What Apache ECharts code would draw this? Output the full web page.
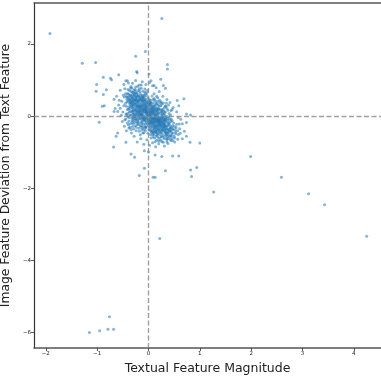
<!DOCTYPE html>
<html>
<head>
<meta charset="utf-8">
<script src="https://cdn.jsdelivr.net/npm/echarts@6/dist/echarts.min.js"></script>
<style>html,body{margin:0;padding:0;background:#fff}#c{width:381px;height:376px}</style>
</head>
<body>
<div id="c"></div>
<script>
var xTicks = [-2, -1, 0, 1, 2, 3, 4];
var yTicks = [-6, -4, -2, 0, 2];
var xTitle = 'Textual Feature Magnitude';
var yTitle = 'Image Feature Deviation from Text Feature';

var corePoints = [
[-0.29,0.27],[-0.23,0.09],[-0.17,0.38],[-0.11,0.16],[-0.05,-0.02],[0.01,0.24],[0.06,-0.15],[0.12,0.01],[0.18,-0.26],[0.24,-0.07],
[-0.27,0.44],[-0.21,0.22],[-0.14,0.03],[-0.08,0.33],[-0.02,0.11],[0.03,-0.08],[0.09,0.17],[0.15,-0.12],[0.21,-0.35],[0.27,-0.16],
[-0.25,0.15],[-0.18,0.51],[-0.13,0.27],[-0.07,-0.11],[0.00,0.06],[0.04,0.29],[0.10,-0.21],[0.16,0.08],[0.20,-0.14],[0.26,-0.41],
[-0.30,0.05],[-0.24,0.34],[-0.16,0.12],[-0.10,0.45],[-0.04,0.19],[0.02,-0.19],[0.07,0.09],[0.14,-0.33],[0.19,0.12],[0.29,-0.05],
[-0.28,0.58],[-0.20,0.01],[-0.15,0.25],[-0.09,-0.07],[-0.01,-0.13],[0.05,0.13],[0.11,-0.06],[0.13,-0.45],[0.23,-0.23],[0.30,-0.29],
[-0.26,0.21],[-0.22,0.47],[-0.12,0.39],[-0.06,0.08],[0.00,-0.25],[0.06,0.02],[0.08,-0.36],[0.17,-0.04],[0.22,-0.44],[0.25,0.02],
[-0.31,0.39],[-0.19,0.14],[-0.11,-0.03],[-0.05,0.29],[0.01,-0.04],[0.07,0.21],[0.12,-0.14],[0.16,-0.28],[0.20,-0.01],[0.28,-0.37],
[-0.24,0.02],[-0.18,0.29],[-0.14,-0.09],[-0.08,0.18],[-0.03,0.36],[0.03,0.04],[0.09,-0.28],[0.14,-0.09],[0.21,-0.19],[0.26,-0.24],
[-0.27,0.33],[-0.21,0.06],[-0.16,0.19],[-0.10,0.28],[-0.04,-0.17],[0.02,0.09],[0.08,-0.12],[0.15,0.14],[0.18,-0.39],[0.23,-0.12],
[-0.29,0.17],[-0.25,0.49],[-0.13,0.08],[-0.07,0.41],[-0.02,-0.08],[0.04,-0.32],[0.10,0.05],[0.12,-0.18],[0.19,-0.29],[0.31,-0.12],
[-0.23,0.26],[-0.17,-0.02],[-0.12,0.15],[-0.06,0.24],[0.00,0.17],[0.05,-0.05],[0.11,-0.41],[0.17,-0.14],[0.24,-0.18],[0.27,-0.02],
[-0.32,0.24],[-0.20,0.41],[-0.15,0.06],[-0.09,0.12],[-0.03,0.04],[0.03,0.19],[0.07,-0.22],[0.13,-0.01],[0.20,-0.09],[0.25,-0.33],
[-0.26,0.37],[-0.19,0.24],[-0.11,0.31],[-0.05,0.13],[0.02,-0.14],[0.06,-0.18],[0.09,0.08],[0.16,-0.22],[0.22,-0.27],[0.29,-0.19],
[-0.22,0.11],[-0.16,0.32],[-0.10,0.02],[-0.04,0.08],[0.01,0.31],[0.04,-0.01],[0.10,-0.09],[0.14,-0.15],[0.18,-0.06],[0.24,-0.46],
[-0.30,0.48],[-0.24,0.19],[-0.14,0.47],[-0.08,-0.01],[-0.02,0.27],[0.05,0.06],[0.11,0.11],[0.15,-0.38],[0.21,-0.12],[0.27,-0.28],
[-0.25,0.28],[-0.18,0.08],[-0.13,0.35],[-0.07,0.21],[-0.01,0.02],[0.03,-0.21],[0.08,-0.03],[0.13,0.06],[0.19,-0.21],[0.26,-0.09],
[-0.28,0.08],[-0.21,0.31],[-0.15,0.14],[-0.09,0.36],[-0.03,-0.06],[0.02,0.15],[0.07,-0.29],[0.12,-0.24],[0.23,-0.31],[0.28,-0.11],
[-0.23,0.43],[-0.17,0.18],[-0.11,0.10],[-0.06,-0.14],[0.00,0.10],[0.06,-0.11],[0.10,-0.16],[0.17,-0.33],[0.20,-0.17],[0.30,-0.21],
[-0.27,0.14],[-0.20,0.27],[-0.12,-0.05],[-0.08,0.25],[-0.04,0.11],[0.04,0.11],[0.09,-0.19],[0.14,-0.26],[0.22,-0.08],[0.25,-0.15],
[-0.21,0.36],[-0.16,0.04],[-0.10,0.19],[-0.05,0.35],[0.01,-0.18],[0.05,0.23],[0.12,-0.32],[0.16,0.02],[0.18,-0.13],[0.32,-0.26],
[-0.28,0.02],[-0.24,-0.08],[-0.21,0.16],[-0.17,0.45],[-0.13,-0.02],[-0.09,0.41],[-0.05,0.17],[-0.01,0.38],[0.02,-0.29],[0.06,0.18],
[0.09,-0.06],[0.13,0.19],[0.16,-0.18],[0.20,0.07],[0.24,-0.26],[0.27,0.11],[0.30,-0.14],[-0.26,0.41],[-0.22,0.29],[-0.18,0.03],
[-0.14,0.22],[-0.10,-0.12],[-0.06,0.31],[-0.02,0.21],[0.02,0.02],[0.05,-0.24],[0.09,0.24],[0.12,-0.09],[0.16,0.21],[0.19,-0.11],
[0.23,-0.04],[0.27,-0.21],[-0.29,0.35],[-0.25,0.05],[-0.21,0.39],[-0.17,0.26],[-0.12,0.04],[-0.08,-0.09],[-0.04,0.26],[0.00,-0.11],
[0.03,0.33],[0.07,-0.08],[0.11,0.16],[0.14,0.03],[0.18,0.18],[0.22,-0.16],[0.26,0.17],[0.29,-0.31],[-0.19,0.11],[-0.03,0.14],
[0.01,0.07],[0.04,-0.15],[0.08,0.12],[0.12,-0.28],[-0.15,0.29],[-0.11,0.22],[-0.07,0.14],[-0.01,0.03],[0.15,-0.06],[0.21,-0.23],
[-0.35,0.27],[-0.33,0.52],[-0.31,0.14],[-0.37,0.37],[-0.39,0.19],[-0.36,0.03],[-0.34,0.41],[-0.32,0.33],[-0.38,0.46],[-0.30,0.22],
[0.33,-0.12],[0.35,-0.29],[0.37,-0.06],[0.39,-0.24],[0.41,-0.41],[0.34,-0.47],[0.36,-0.35],[0.38,-0.19],[0.42,-0.35],[0.32,-0.09],
[-0.02,-0.21],[0.03,-0.37],[0.07,-0.41],[0.11,-0.35],[-0.06,-0.31],[0.14,-0.41],[0.17,-0.44],[0.09,-0.47],[0.19,-0.36],[0.23,-0.39],
[-0.04,0.41],[-0.08,0.47],[-0.12,0.43],[-0.16,0.51],[0.00,0.33],[0.04,0.38],[-0.20,0.55],[-0.24,0.46],[-0.11,0.53],[0.02,0.45]
];

var fillPoints = [
[0.06,0.31],[0.09,0.46],[0.12,0.22],[0.14,0.39],[0.17,0.15],[0.19,0.41],[0.21,0.27],[0.23,0.09],[0.26,0.33],[0.28,0.19],
[0.31,0.24],[0.33,0.11],[0.35,0.36],[0.38,0.16],[0.08,0.26],[0.11,0.49],[0.15,0.33],[0.18,0.06],[0.22,0.44],[0.25,0.13],
[0.29,0.36],[0.32,0.02],[0.36,0.21],[0.40,0.07],[0.05,0.36],[0.13,0.12],[0.16,0.55],[0.20,0.19],[0.24,0.29],[0.27,0.06],
[0.07,0.14],[0.10,0.28],[0.13,0.44],[0.19,0.31],[0.23,0.37],[0.30,0.14],[0.34,0.27],[0.39,0.31],[0.43,0.03],[0.46,0.18],
[-0.06,-0.22],[-0.09,-0.37],[-0.12,-0.14],[-0.14,-0.31],[-0.17,-0.08],[-0.19,-0.34],[-0.21,-0.19],[-0.23,-0.03],[-0.26,-0.27],[-0.28,-0.12],
[-0.31,-0.29],[-0.33,-0.05],[-0.35,-0.21],[-0.38,-0.14],[-0.08,-0.28],[-0.11,-0.47],[-0.15,-0.18],[-0.18,-0.42],[-0.22,-0.24],[-0.25,-0.09],
[-0.29,-0.36],[-0.32,-0.17],[-0.36,-0.31],[-0.40,-0.01],[-0.05,-0.33],[-0.13,-0.26],[-0.16,-0.52],[-0.20,-0.15],[-0.24,-0.41],[-0.27,-0.02],
[-0.07,-0.06],[-0.10,-0.21],[-0.13,-0.39],[-0.19,-0.23],[-0.23,-0.16],[-0.30,-0.04],[-0.34,-0.37],[-0.39,-0.24],[-0.42,0.04],[-0.46,-0.11],
[-0.05,0.47],[-0.09,0.58],[-0.13,0.51],[-0.16,0.63],[-0.19,0.44],[-0.22,0.55],[-0.25,0.68],[-0.28,0.46],[-0.31,0.59],[-0.34,0.68],
[-0.37,0.57],[-0.40,0.42],[-0.43,0.55],[-0.07,0.75],[-0.11,0.69],[-0.14,0.86],[-0.18,0.76],[-0.21,0.83],[-0.27,0.62],[-0.32,0.77],
[-0.04,0.57],[-0.10,0.51],[-0.20,0.71],[-0.24,0.52],[-0.36,0.44],[-0.03,0.64],[-0.15,0.44],[-0.26,0.74],[-0.30,0.66],[-0.41,0.52],
[0.05,-0.42],[0.08,-0.51],[0.12,-0.61],[0.15,-0.46],[0.18,-0.58],[0.21,-0.42],[0.24,-0.67],[0.27,-0.39],[0.30,-0.63],[0.33,-0.45],
[0.36,-0.72],[0.39,-0.46],[0.42,-0.64],[0.45,-0.53],[0.48,-0.35],[0.51,-0.61],[0.54,-0.32],[0.13,-0.71],[0.17,-0.52],[0.20,-0.69],
[0.26,-0.57],[0.29,-0.73],[0.32,-0.36],[0.35,-0.53],[0.38,-0.62],[0.44,-0.41],[0.47,-0.68],[0.53,-0.49],[0.57,-0.41],[0.60,-0.22]
];

var midPoints = [
[-0.52,0.41],[-0.45,0.62],[-0.41,0.18],[-0.37,0.71],[-0.34,0.02],[-0.33,0.45],[0.33,-0.05],[0.36,-0.48],[0.41,-0.22],[0.47,-0.38],
[-0.48,0.29],[-0.44,0.06],[-0.39,0.52],[-0.36,0.33],[-0.32,-0.12],[0.34,-0.31],[0.38,-0.11],[0.43,-0.55],[0.49,-0.19],[0.53,-0.44],
[-0.55,0.22],[-0.47,0.53],[-0.42,0.39],[-0.38,-0.04],[-0.35,0.59],[0.35,-0.62],[0.39,-0.36],[0.44,-0.08],[0.51,-0.29],[0.58,-0.51],
[-0.46,0.76],[-0.43,0.27],[-0.40,0.08],[-0.36,0.48],[-0.31,0.66],[0.32,-0.42],[0.37,-0.26],[0.42,-0.43],[0.46,-0.61],[0.55,-0.23],
[-0.50,0.11],[-0.41,0.63],[-0.38,0.25],[-0.34,0.82],[-0.30,-0.21],[0.31,0.09],[0.40,-0.02],[0.45,-0.31],[0.48,-0.47],[0.61,-0.35],
[-0.28,0.72],[-0.22,0.64],[-0.17,0.69],[-0.12,0.58],[-0.06,0.62],[-0.01,0.51],[0.04,0.44],[0.09,0.37],[0.14,0.26],[0.19,0.22],
[-0.25,0.81],[-0.19,0.57],[-0.14,0.77],[-0.08,0.54],[-0.02,0.71],[0.03,0.38],[0.07,0.56],[0.12,0.31],[0.17,0.35],[0.23,0.18],
[-0.27,-0.18],[-0.21,-0.11],[-0.16,-0.27],[-0.11,-0.33],[-0.06,-0.41],[-0.01,-0.48],[0.04,-0.52],[0.09,-0.58],[0.15,-0.55],[0.21,-0.62],
[-0.24,-0.31],[-0.19,-0.06],[-0.13,-0.19],[-0.09,-0.46],[-0.04,-0.29],[0.01,-0.39],[0.06,-0.45],[0.11,-0.52],[0.18,-0.49],[0.24,-0.58],
[-0.29,-0.08],[-0.23,0.61],[-0.15,0.56],[-0.07,0.67],[0.00,0.42],[0.05,-0.61],[0.10,-0.44],[0.16,-0.67],[0.22,-0.51],[0.28,-0.54],
[-0.42,0.47],[-0.37,0.12],[-0.33,0.29],[-0.31,0.51],[0.30,-0.41],[0.33,-0.19],[0.36,-0.66],[0.38,-0.39],[0.41,-0.57],[0.44,-0.15],
[-0.45,0.35],[-0.40,0.74],[-0.35,0.38],[-0.32,0.15],[0.29,0.05],[0.31,-0.58],[0.35,-0.15],[0.39,-0.52],[0.43,-0.33],[0.50,-0.56],
[-0.39,0.61],[-0.36,0.21],[-0.34,0.55],[-0.30,0.31],[0.32,-0.27],[0.34,-0.08],[0.37,-0.44],[0.42,-0.28],[0.46,-0.12],[0.52,-0.38],
[-0.33,0.36],[-0.31,0.09],[-0.29,0.55],[-0.26,0.63],[0.27,-0.48],[0.30,-0.34],[0.33,-0.52],[0.36,-0.01],[0.40,-0.17],[0.45,-0.48],
[-0.35,0.12],[-0.30,0.42],[-0.28,-0.02],[-0.25,0.55],[0.28,-0.03],[0.31,-0.23],[0.34,-0.38],[0.37,-0.57],[0.41,-0.09],[0.47,-0.26]
];

var fringePoints = [
[-0.62,0.55],[-0.58,0.31],[-0.55,0.72],[-0.60,0.13],[-0.51,-0.15],[-0.48,0.88],[-0.44,0.98],[-0.39,0.92],[-0.53,0.02],[-0.57,0.44],
[-0.65,0.21],[-0.47,-0.28],[-0.43,-0.41],[-0.38,-0.33],[-0.33,-0.47],[-0.28,-0.56],[-0.22,-0.72],[-0.15,-0.63],[-0.09,-0.78],[-0.03,-0.66],
[0.02,-0.81],[0.08,-0.74],[0.14,-0.85],[0.20,-0.77],[0.26,-0.71],[0.31,-0.83],[0.38,-0.76],[0.44,-0.68],[0.51,-0.72],[0.57,-0.64],
[0.62,-0.48],[0.66,-0.21],[0.63,-0.09],[0.70,-0.42],[0.74,-0.56],[0.55,0.12],[0.48,0.24],[0.42,0.38],[0.36,0.46],[0.28,0.55],
[0.21,0.68],[0.15,0.79],[0.08,0.84],[0.02,0.93],[-0.05,0.88],[-0.12,0.95],[-0.18,0.86],[-0.25,0.99],[-0.31,0.91],[-0.35,0.78],
[0.11,0.62],[0.18,0.51],[0.25,0.39],[0.33,0.28],[0.44,0.15],[0.58,-0.04],[-0.44,-0.08],[-0.49,0.58],[-0.41,-0.19],[0.66,-0.63],
[-0.88,1.08],[-0.74,1.05],[-1.01,0.88],[-0.82,0.73],[-1.02,0.69],[-0.86,0.29],[-0.88,0.60],[-0.67,0.47],[-0.58,1.15],[-0.22,1.20],
[-0.41,0.98],[0.05,0.98],[0.11,0.85],[0.24,1.02],[0.29,0.85],[0.33,0.77],[0.56,0.43],[0.59,0.29],[0.69,0.48],[0.74,0.06],
[0.82,0.03],[0.74,-0.18],[0.81,-0.73],[0.59,-1.11],[0.47,-1.11],[0.26,-1.12],[0.13,-1.08],[0.00,-1.00],[-0.08,-0.96],[-0.27,-1.14],
[-0.34,-1.05],[-0.63,-0.56],[-0.60,-0.47],[-0.44,-0.73],[-0.67,0.13],[-0.90,0.27],[-0.68,-0.86],[-0.96,-0.17],[0.01,1.17],[-0.23,1.24]
];

var outlierPoints = [
[-1.92,2.29],[0.26,2.71],[-1.29,1.47],[-1.03,1.49],[-0.06,1.79],[-0.25,1.66],[0.37,1.43],[0.37,1.31],[-0.72,1.01],
[1.99,-1.12],[2.59,-1.70],[3.12,-2.16],[3.43,-2.46],[4.25,-3.34],[1.27,-2.11],[0.22,-3.40],[1.00,-0.75],[0.94,-1.43],
[0.82,-1.50],[0.84,-1.68],[0.33,-1.52],[0.09,-1.70],[0.13,-1.70],[-0.18,-1.65],[-0.08,-1.45],
[-0.76,-5.57],[-1.15,-6.01],[-0.95,-5.96],[-0.79,-5.92],[-0.68,-5.92]
];

var allPoints = corePoints.concat(fillPoints, midPoints, fringePoints, outlierPoints);

function fmt(v){ return String(v).replace('-', '\u2212'); }

var chart = echarts.init(document.getElementById('c'), null, {renderer:'canvas'});
chart.setOption({
  animation: false,
  backgroundColor: '#fff',
  grid: {left: 34, right: 0, top: 3, bottom: 28, containLabel: false, outerBoundsMode: 'none'},
  xAxis: [{
    type: 'value', min: -2.23, max: 4.53, position: 'bottom',
    name: xTitle, nameLocation: 'middle', nameGap: 12,
    nameTextStyle: {fontFamily: 'DejaVu Sans', fontSize: 12.5, color: '#222'},
    splitLine: {show: false},
    axisLine: {show: true, onZero: false, lineStyle: {color: '#555', width: 1.5}},
    axisTick: {show: true, length: 3, customValues: xTicks, lineStyle: {color: '#333', width: 0.8}},
    axisLabel: {customValues: xTicks, fontFamily: 'DejaVu Sans', fontSize: 5.5, color: '#222', margin: 3, formatter: fmt}
  }, {
    type: 'value', min: -2.23, max: 4.53, position: 'top',
    axisLine: {show: true, onZero: false, lineStyle: {color: '#555', width: 1.5}},
    axisTick: {show: false}, axisLabel: {show: false}, splitLine: {show: false}
  }],
  yAxis: {
    type: 'value', min: -6.44, max: 3.14,
    name: yTitle, nameLocation: 'middle', nameGap: 17, nameRotate: 90,
    nameTextStyle: {fontFamily: 'DejaVu Sans', fontSize: 12.3, color: '#222'},
    splitLine: {show: false},
    axisLine: {show: true, onZero: false, lineStyle: {color: '#333', width: 1.2}},
    axisTick: {show: true, length: 3, customValues: yTicks, lineStyle: {color: '#333', width: 0.8}},
    axisLabel: {customValues: yTicks, fontFamily: 'DejaVu Sans', fontSize: 5.5, color: '#222', margin: 3, formatter: fmt}
  },
  series: [{
    type: 'scatter',
    data: allPoints,
    symbol: 'circle',
    symbolSize: 3,
    itemStyle: {color: '#1f77b4', opacity: 0.55},
    markLine: {
      silent: true, symbol: 'none', animation: false,
      label: {show: false},
      lineStyle: {color: 'rgba(128,128,128,0.75)', type: [5, 2.5], width: 1.4},
      data: [{xAxis: 0}, {yAxis: 0}]
    }
  }]
});
</script>
</body>
</html>
